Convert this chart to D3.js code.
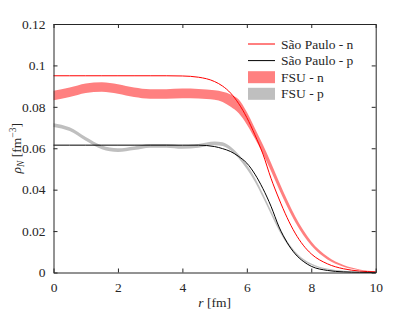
<!DOCTYPE html>
<meta charset="utf-8">
<script src="https://cdn.jsdelivr.net/npm/d3@7"></script>
<style>
  body { margin: 0; background: #fff; }
  svg text { font-family: "Liberation Serif", "DejaVu Serif", "Noto Serif", Tinos, "Times New Roman", Times, FreeSerif, serif; fill: #262626; }
</style>
<body>
<script>

// radius grid [fm]
var rs = [0, 0.5, 1, 1.5, 2, 2.5, 3, 3.5, 4, 4.5, 5, 5.25, 5.5, 5.75, 6, 6.25, 6.5, 6.75, 7, 7.25, 7.5, 7.75, 8, 8.5, 9, 9.5, 10];

// Sao Paulo densities
var spN = [0.0950, 0.0950, 0.0950, 0.0950, 0.0950, 0.0950, 0.0950, 0.0950, 0.0949, 0.0943, 0.0922, 0.0900, 0.0866, 0.0815, 0.0748, 0.0665, 0.0572, 0.0455, 0.0355, 0.0265, 0.0190, 0.0132, 0.0090, 0.0042, 0.0018, 0.0007, 0.0003];
var spP = [0.0615, 0.0615, 0.0615, 0.0615, 0.0615, 0.0615, 0.0615, 0.0615, 0.0615, 0.0615, 0.0608, 0.0598, 0.0584, 0.0560, 0.0528, 0.0475, 0.0405, 0.0320, 0.0220, 0.0145, 0.0090, 0.0054, 0.0030, 0.0010, 0.0003, 0.0001, 0.0000];

// FSU bands (lower / upper edge)
var fsuNlo = [0.0832, 0.0847, 0.0867, 0.0873, 0.0863, 0.0847, 0.0839, 0.0839, 0.0842, 0.0840, 0.0834, 0.0823, 0.0800, 0.0769, 0.0715, 0.0647, 0.0573, 0.0490, 0.0402, 0.0319, 0.0244, 0.0181, 0.0130, 0.0063, 0.0028, 0.0011, 0.0004];
var fsuNhi = [0.0878, 0.0893, 0.0913, 0.0919, 0.0909, 0.0893, 0.0885, 0.0885, 0.0888, 0.0886, 0.0880, 0.0873, 0.0860, 0.0835, 0.0775, 0.0697, 0.0617, 0.0530, 0.0438, 0.0351, 0.0272, 0.0205, 0.0150, 0.0077, 0.0036, 0.0015, 0.0006];
var fsuPlo = [0.0703, 0.0683, 0.0636, 0.0595, 0.0582, 0.0591, 0.0603, 0.0603, 0.0597, 0.0603, 0.0615, 0.0611, 0.0589, 0.0550, 0.0500, 0.0438, 0.0362, 0.0281, 0.0202, 0.0138, 0.0090, 0.0057, 0.0036, 0.0013, 0.0004, 0.0001, 0.0000];
var fsuPhi = [0.0721, 0.0701, 0.0654, 0.0613, 0.0600, 0.0609, 0.0621, 0.0621, 0.0615, 0.0621, 0.0633, 0.0629, 0.0607, 0.0570, 0.0520, 0.0458, 0.0382, 0.0299, 0.0218, 0.0152, 0.0102, 0.0067, 0.0044, 0.0019, 0.0008, 0.0003, 0.0002];

var xTicks = [0, 2, 4, 6, 8, 10];
var yTicks = [0, 0.02, 0.04, 0.06, 0.08, 0.1, 0.12];
var yTickLabels = ["0", "0.02", "0.04", "0.06", "0.08", "0.1", "0.12"];

var legendItems = [
  {label: "São Paulo - n", kind: "line", color: "#ff0000"},
  {label: "São Paulo - p", kind: "line", color: "#000000"},
  {label: "FSU - n", kind: "band", color: "#ff8080"},
  {label: "FSU - p", kind: "band", color: "#bfbfbf"}
];

var W = 415, H = 313;
var x = d3.scaleLinear().domain([0, 10]).range([53.5, 375.7]);
var y = d3.scaleLinear().domain([0, 0.12]).range([272.5, 24]);

var svg = d3.select("body").append("svg").attr("width", W).attr("height", H);

function band(lo, hi) {
  return d3.area().curve(d3.curveMonotoneX)
    .x(function(d, i) { return x(rs[i]); })
    .y0(function(d, i) { return y(lo[i]); })
    .y1(function(d, i) { return y(hi[i]); })(rs);
}
function line(vals) {
  return d3.line().curve(d3.curveMonotoneX)
    .x(function(d, i) { return x(rs[i]); })
    .y(function(d, i) { return y(vals[i]); })(rs);
}

var plot = svg.append("g");
plot.append("path").attr("d", band(fsuNlo, fsuNhi)).attr("fill", "#ff8080");
plot.append("path").attr("d", band(fsuPlo, fsuPhi)).attr("fill", "#bfbfbf");
plot.append("path").attr("d", line(spN)).attr("fill", "none").attr("stroke", "#ff0000").attr("stroke-width", 1);
plot.append("path").attr("d", line(spP)).attr("fill", "none").attr("stroke", "#000").attr("stroke-width", 1);

// axes, ticks inside, box on
function styleAxis(g) {
  g.attr("font-family", null).attr("font-size", null);
  g.selectAll("path, line").attr("stroke", "#262626").attr("stroke-width", 1);
  g.selectAll("text").attr("font-size", "13.5px").attr("fill", "#262626");
}
svg.append("g").attr("transform", "translate(0," + y(0) + ")")
  .call(d3.axisBottom(x).tickValues(xTicks).tickSizeInner(-4).tickSizeOuter(0).tickPadding(10))
  .call(styleAxis);
svg.append("g").attr("transform", "translate(0," + y(0.12) + ")")
  .call(d3.axisTop(x).tickValues(xTicks).tickSizeInner(-4).tickSizeOuter(0).tickFormat(""))
  .call(styleAxis);
svg.append("g").attr("transform", "translate(" + x(0) + ",0)")
  .call(d3.axisLeft(y).tickValues(yTicks).tickSizeInner(-4).tickSizeOuter(0).tickPadding(8)
    .tickFormat(function(d, i) { return yTickLabels[i]; }))
  .call(styleAxis);
svg.append("g").attr("transform", "translate(" + x(10) + ",0)")
  .call(d3.axisRight(y).tickValues(yTicks).tickSizeInner(-4).tickSizeOuter(0).tickFormat(""))
  .call(styleAxis);

// axis labels
var xl = svg.append("text").attr("x", (x(0) + x(10)) / 2).attr("y", 307)
  .attr("text-anchor", "middle").attr("font-size", "13.5px");
xl.append("tspan").attr("font-style", "italic").text("r");
xl.append("tspan").text(" [fm]");

var yl = svg.append("text").attr("transform", "translate(21," + (y(0.06)) + ") rotate(-90)")
  .attr("text-anchor", "middle").attr("font-size", "13.5px");
yl.append("tspan").attr("font-style", "italic").text("ρ");
yl.append("tspan").attr("font-style", "italic").attr("font-size", "9.5px").attr("dy", 3).text("N");
yl.append("tspan").attr("dy", -3).text(" [fm");
yl.append("tspan").attr("font-size", "9.5px").attr("dy", -5).text("−3");
yl.append("tspan").attr("dy", 5).text("]");

// legend
var leg = svg.append("g").attr("transform", "translate(248,44)");
legendItems.forEach(function(it, i) {
  var g = leg.append("g").attr("transform", "translate(0," + (i * 16.6) + ")");
  if (it.kind === "line") {
    g.append("line").attr("x1", 0).attr("x2", 27).attr("y1", 0).attr("y2", 0)
      .attr("stroke", it.color).attr("stroke-width", 1);
  } else {
    g.append("rect").attr("x", 0).attr("y", -6).attr("width", 27).attr("height", 12).attr("fill", it.color);
  }
  g.append("text").attr("x", 33).attr("y", 4.5).attr("font-size", "13.5px").text(it.label);
});

</script>
</body>
